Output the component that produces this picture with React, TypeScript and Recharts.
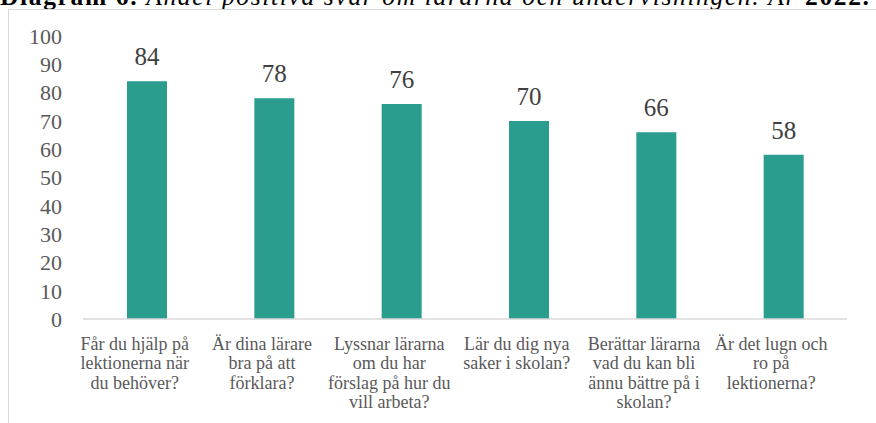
import { Bar, BarChart, LabelList, XAxis, YAxis } from 'recharts';

const categories = [
    'Får du hjälp på\nlektionerna när\ndu behöver?',
    'Är dina lärare\nbra på att\nförklara?',
    'Lyssnar lärarna\nom du har\nförslag på hur du\nvill arbeta?',
    'Lär du dig nya\nsaker i skolan?',
    'Berättar lärarna\nvad du kan bli\nännu bättre på i\nskolan?',
    'Är det lugn och\nro på\nlektionerna?',
];
const values = [84, 78, 76, 70, 66, 58];
const yTicks = [0, 10, 20, 30, 40, 50, 60, 70, 80, 90, 100];

const data = categories.map((name, i) => ({ name, value: values[i] }));

const FONT = '"Liberation Serif", "Times New Roman", serif';

const CategoryTick = (props: any) => {
    const { x, y, payload } = props;
    const lines = String(payload.value).split('\n');
    return (
        <text x={x - 12} y={y + 29} textAnchor="middle" fill="#595959" fontSize={18} fontFamily={FONT}>
            {lines.map((line, i) => (
                <tspan key={i} x={x - 12} dy={i === 0 ? 0 : 19.3}>{line}</tspan>
            ))}
        </text>
    );
};

const App = () => {
    return (
        <div style={{ position: 'absolute', left: 0, top: 0, width: 876, height: 423, overflow: 'hidden', background: '#fff' }}>
            <svg width={876} height={20} style={{ position: 'absolute', left: 0, top: 0 }}>
                <text x={0} y={5} fontFamily={FONT} fontSize={25.5} fill="#000" textLength={869} lengthAdjust="spacing">
                    <tspan fontWeight="bold">Diagram 6. </tspan>
                    <tspan fontStyle="italic">Andel positiva svar om lärarna och undervisningen. År </tspan>
                    <tspan fontWeight="bold">2022.</tspan>
                </text>
            </svg>
            <div style={{ position: 'absolute', left: 8, top: 9, width: 900, height: 500, border: '1px solid #d9d9d9' }} />
            <div style={{ position: 'absolute', left: 0, top: 0 }}>
                <BarChart
                    width={876}
                    height={423}
                    data={data}
                    margin={{ top: 36, right: 29, left: 0, bottom: 0 }}
                >
                    <XAxis
                        dataKey="name"
                        interval={0}
                        tickLine={false}
                        tickSize={0}
                        axisLine={{ stroke: '#d9d9d9', strokeWidth: 1.5 }}
                        tick={<CategoryTick />}
                        height={104}
                    />
                    <YAxis
                        width={83}
                        domain={[0, 100]}
                        ticks={yTicks}
                        interval={0}
                        axisLine={false}
                        tickLine={false}
                        tickSize={0}
                        tickMargin={21}
                        tick={{ fill: '#595959', fontSize: 22, fontFamily: FONT }}
                    />
                    <Bar dataKey="value" fill="#2a9d8f" barSize={40} isAnimationActive={false}>
                        <LabelList
                            dataKey="value"
                            position="top"
                            offset={16}
                            fill="#404040"
                            fontSize={25}
                            fontFamily={FONT}
                        />
                    </Bar>
                </BarChart>
            </div>
        </div>
    );
};

export default App;
